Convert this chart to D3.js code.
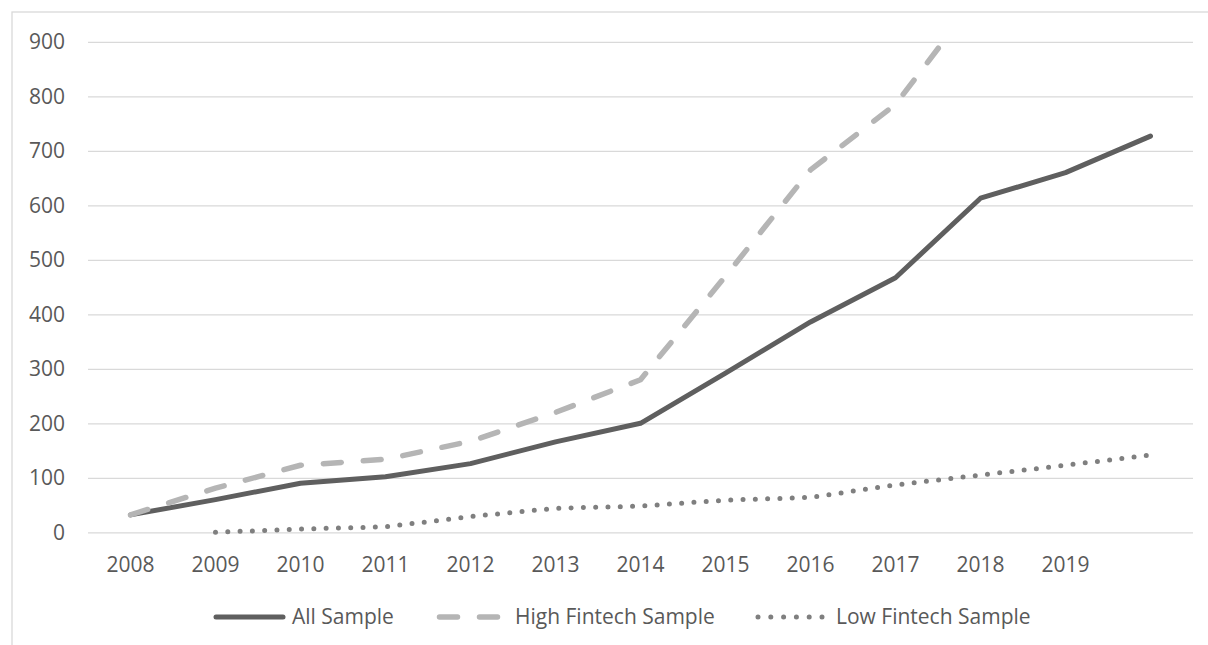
<!DOCTYPE html>
<html>
<head>
<meta charset="utf-8">
<script src="https://cdn.jsdelivr.net/npm/d3@7"></script>
<style>
  html, body { margin: 0; padding: 0; background: #ffffff; }
  svg { display: block; font-family: "Open Sans", "Noto Sans", sans-serif; }
</style>
</head>
<body>
<svg id="chart" width="1208" height="645"></svg>
<script>
// Years on the category axis; the last category carries no label
const years = [2008, 2009, 2010, 2011, 2012, 2013, 2014, 2015, 2016, 2017, 2018, 2019, 2020];
const yearLabels = ["2008", "2009", "2010", "2011", "2012", "2013", "2014", "2015", "2016", "2017", "2018", "2019", ""];
const yTicks = [0, 100, 200, 300, 400, 500, 600, 700, 800, 900];

// Series values per year
const allSample = [32, 60, 90, 102, 126, 166, 200, 292, 386, 467, 613, 660, 727];
const highFintech = [32, 81, 123, 134, 167, 220, 280, 470, 665, 785, 990, null, null];
const lowFintech = [null, 0, 6, 10, 29, 44, 48, 59, 64, 87, 105, 123, 142];

const seriesNames = ["All Sample", "High Fintech Sample", "Low Fintech Sample"];

const svg = d3.select("#chart");
const W = 1208, H = 645;
const plot = { left: 88, right: 1193, top: 41.8, bottom: 532.3 };
const textColor = "#595959";
const gridColor = "#d9d9d9";

// Outer chart frame
svg.append("rect")
  .attr("x", 12).attr("y", 12)
  .attr("width", W).attr("height", H)
  .attr("fill", "none")
  .attr("stroke", gridColor)
  .attr("stroke-width", 1.3);

const x = d3.scaleBand()
  .domain(years)
  .range([plot.left, plot.right])
  .paddingInner(0).paddingOuter(0);
const xc = d => x(d) + x.bandwidth() / 2;

const y = d3.scaleLinear()
  .domain([0, 900])
  .range([plot.bottom, plot.top]);

// Horizontal gridlines with value labels
const yAxis = d3.axisLeft(y)
  .tickValues(yTicks)
  .tickSize(-(plot.right - plot.left))
  .tickPadding(23)
  .tickFormat(d3.format("d"));

const gy = svg.append("g")
  .attr("transform", `translate(${plot.left},0)`)
  .call(yAxis);
gy.select(".domain").remove();
gy.selectAll(".tick line").attr("stroke", gridColor).attr("stroke-width", 1.3);
gy.selectAll(".tick text")
  .attr("fill", textColor)
  .attr("font-size", 21)
  .attr("font-family", "Open Sans, Noto Sans, sans-serif");

// Category labels along the bottom
const xAxis = d3.axisBottom(x)
  .tickSize(0)
  .tickPadding(24.5)
  .tickFormat((d, i) => yearLabels[i]);

const gx = svg.append("g")
  .attr("transform", `translate(0,${plot.bottom})`)
  .call(xAxis);
gx.select(".domain").remove();
gx.selectAll(".tick text")
  .attr("fill", textColor)
  .attr("font-size", 21)
  .attr("font-family", "Open Sans, Noto Sans, sans-serif");

// Clip lines to the plotting area
svg.append("clipPath").attr("id", "plotClip")
  .append("rect")
  .attr("x", plot.left - 10).attr("y", plot.top)
  .attr("width", plot.right - plot.left + 20)
  .attr("height", plot.bottom - plot.top + 20);

const styles = [
  { color: "#5f5f5f", width: 5, dash: null },
  { color: "#b5b5b5", width: 5.5, dash: "18,22" },
  { color: "#7f7f7f", width: 5, dash: "0,12.3" }
];
const seriesData = [allSample, highFintech, lowFintech];

const line = d3.line()
  .defined(d => d.v !== null)
  .x(d => xc(d.year))
  .y(d => y(d.v));

const lines = svg.append("g").attr("clip-path", "url(#plotClip)");
seriesData.forEach((vals, i) => {
  const pts = years.map((yr, j) => ({ year: yr, v: vals[j] }));
  const st = styles[i];
  lines.append("path")
    .datum(pts)
    .attr("d", line)
    .attr("fill", "none")
    .attr("stroke", st.color)
    .attr("stroke-width", st.width)
    .attr("stroke-linecap", "round")
    .attr("stroke-linejoin", "round")
    .attr("stroke-dasharray", st.dash);
});

// Legend
const legendY = 617;
const legendItems = [
  { x0: 216, x1: 283, tx: 292 },
  { x0: 439.5, x1: 501.5, tx: 515 },
  { x0: 758, x1: 823, tx: 836 }
];
const legend = svg.append("g");
legendItems.forEach((it, i) => {
  const st = styles[i];
  legend.append("line")
    .attr("x1", it.x0).attr("x2", it.x1)
    .attr("y1", legendY).attr("y2", legendY)
    .attr("stroke", st.color)
    .attr("stroke-width", st.width)
    .attr("stroke-linecap", "round")
    .attr("stroke-dasharray", i === 2 ? "0,12.8" : st.dash);
  legend.append("text")
    .attr("x", it.tx).attr("y", legendY)
    .attr("dy", "0.35em")
    .attr("fill", textColor)
    .attr("font-size", 21)
    .text(seriesNames[i]);
});
</script>
</body>
</html>
